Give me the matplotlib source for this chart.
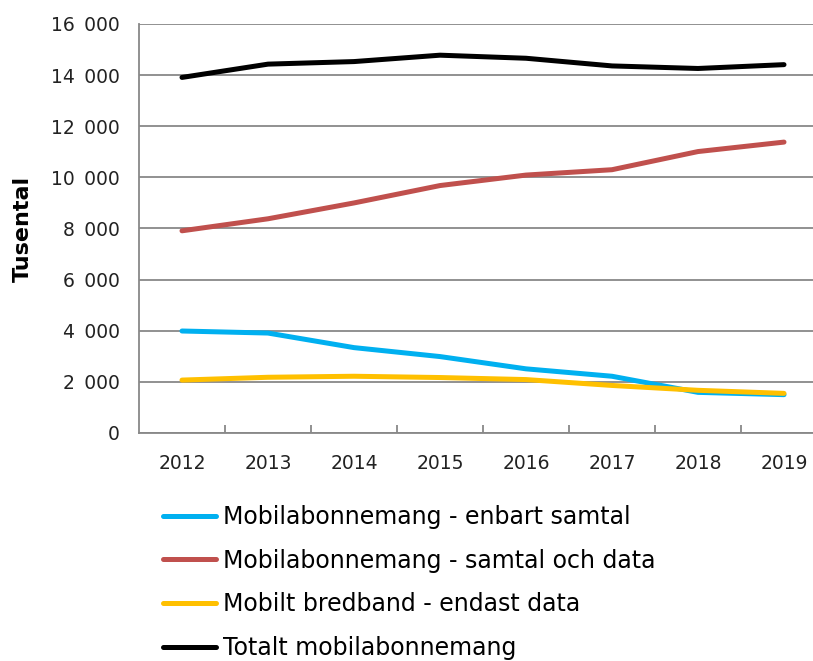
import matplotlib
matplotlib.use("Agg")
import matplotlib.pyplot as plt
from matplotlib.ticker import FuncFormatter, FixedLocator

# data (thousands)
years = [2012, 2013, 2014, 2015, 2016, 2017, 2018, 2019]
enbart_samtal = [3990, 3910, 3340, 2990, 2510, 2220, 1590, 1500]
samtal_och_data = [7910, 8380, 9000, 9680, 10090, 10300, 11010, 11380]
endast_data = [2070, 2180, 2220, 2170, 2090, 1860, 1670, 1550]
totalt = [13910, 14430, 14530, 14780, 14660, 14360, 14260, 14410]

labels = ["Mobilabonnemang - enbart samtal",
          "Mobilabonnemang - samtal och data",
          "Mobilt bredband - endast data",
          "Totalt mobilabonnemang"]
colors = ["#00B0F0", "#C0504D", "#FFC000", "#000000"]
series = [enbart_samtal, samtal_och_data, endast_data, totalt]

plt.rcParams['font.family'] = ['DejaVu Sans']

fig = plt.figure(figsize=(8.13, 6.61), dpi=100)
ax = fig.add_axes([139 / 813, 228 / 661, 688 / 813, 409 / 661])

x = list(range(len(years)))
for vals, col, lab in zip(series, colors, labels):
    ax.plot(x, vals, color=col, lw=3.6, label=lab,
            solid_capstyle='round', solid_joinstyle='round')

grid_col = "#888888"
ax.set_ylim(0, 16000)
ax.set_yticks(range(0, 16001, 2000))
# thousands separated by a wide space, like the original
ax.yaxis.set_major_formatter(FuncFormatter(lambda v, p: f"{int(v):,}".replace(",", "\u2002")))
ax.set_xlim(-0.5, 7.5)
ax.set_xticks(x)
ax.set_xticklabels([str(y) for y in years])
ax.xaxis.set_minor_locator(FixedLocator([i + 0.5 for i in range(7)]))

ax.grid(axis='y', color=grid_col, lw=1.3)
ax.set_axisbelow(True)
for s in ['top', 'right']:
    ax.spines[s].set_visible(False)
for s in ['left', 'bottom']:
    ax.spines[s].set_color(grid_col)
    ax.spines[s].set_linewidth(1.3)

ax.tick_params(axis='y', length=0, pad=14, labelsize=13.5, labelcolor='#222222')
ax.tick_params(axis='x', which='major', length=0, pad=15, labelsize=13.5, labelcolor='#222222')
ax.tick_params(axis='x', which='minor', direction='in', length=6, width=1.3, color=grid_col)

ax.set_ylabel("Tusental", fontsize=16, fontweight='bold')
ax.yaxis.set_label_coords(-(139 - 33) / 688, 0.5)

fig.legend(loc='upper left', bbox_to_anchor=(163 / 813, 1 - 505 / 661),
           frameon=False, fontsize=17, handlelength=2.25, handletextpad=0.3,
           labelspacing=0.83, borderaxespad=0, borderpad=0)

fig.savefig("out.png", dpi=100)
